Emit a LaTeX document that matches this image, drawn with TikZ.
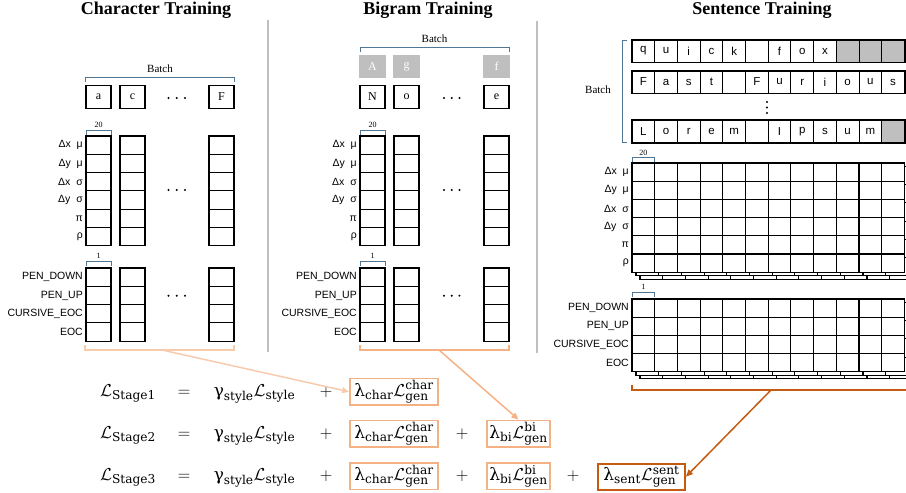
\documentclass[tikz,border=0pt]{standalone}
\usepackage{fontspec}
\usetikzlibrary{arrows.meta}

\newfontfamily\serifface{Liberation Serif}
\newfontfamily\sansface{Liberation Sans}
\newfontfamily\eqface{DejaVu Serif}

\newlength{\du}
\setlength{\du}{1pt}

\newcommand{\eqsub}[1]{\mbox{\eqface\fontsize{12.2}{13}\selectfont #1}}
\newcommand{\eqgrk}[1]{\mbox{\eqface #1}}

\definecolor{batchblue}{RGB}{80,120,150}
\definecolor{padgray}{RGB}{191,191,191}
\definecolor{dividergray}{RGB}{191,191,191}
\definecolor{charsalmon}{RGB}{248,203,173}
\definecolor{bisalmon}{RGB}{244,177,131}
\definecolor{sentorange}{RGB}{197,90,17}

\tikzset{
  titletext/.style={anchor=base, inner sep=0, font=\serifface\bfseries\fontsize{18}{20}\selectfont},
  batchtext/.style={inner sep=0, font=\serifface\fontsize{11}{12}\selectfont},
  sizetext/.style={inner sep=0, font=\serifface\fontsize{8}{9}\selectfont},
  batchbrace/.style={draw=batchblue, line width=0.9},
  letterbox/.style={draw=black, line width=1.2, minimum width=25, minimum height=22.5, inner sep=0, font=\serifface\fontsize{12}{13}\selectfont},
  padletter/.style={letterbox, draw=padgray, fill=padgray, text=white},
  cellbox/.style={draw=black, fill=white, line width=1.1},
  rowlab/.style={anchor=east, inner sep=0, font=\sansface\fontsize{10.5}{12}\selectfont},
  dotmark/.style={circle, fill=black, inner sep=0, minimum size=2.2},
  sentcell/.style={draw=black, line width=1, minimum width=22.7, minimum height=22, inner sep=0, font=\sansface\fontsize{11.5}{12}\selectfont},
  padcell/.style={sentcell, fill=padgray},
  rowframe/.style={draw=black, line width=1.6},
  divider/.style={draw=dividergray, line width=2},
  eqtext/.style={anchor=base, inner sep=0, font=\fontsize{17}{20}\selectfont},
  charloss/.style={eqtext, draw=bisalmon, line width=1.8, inner sep=2, minimum width=88, minimum height=26},
  biloss/.style={charloss, minimum width=63},
  sentloss/.style={charloss, draw=sentorange, minimum width=87},
  chararrow/.style={draw=charsalmon, line width=1.5, -{Triangle[length=7,width=6]}},
  biarrow/.style={draw=bisalmon, line width=1.5, -{Triangle[length=7,width=6]}},
  sentarrow/.style={draw=sentorange, line width=1.5, -{Triangle[length=7,width=6]}},
}

\begin{document}
\begin{tikzpicture}[x=\du, y=\du]
\pgftransformyscale{-1.000000}
\useasboundingbox (0,0) rectangle (906,493);
\clip (0,0) rectangle (906,493);

% dividers
\draw[divider] (268,20) -- (268,352);
\draw[divider] (537,21) -- (537,353);

% Character Training
\node[titletext] (chartitle) at (156,14.5) {Character Training};
\node[batchtext] (charbatch) at (160,68.5) {Batch};
\draw[batchbrace] (85,82) -- (85,77) -- (234,77) -- (234,82);
\foreach \cx/\ch [count=\i] in {86/a,120/c,209/F}
  \node[letterbox] (charin\i) at (\cx+12.5,97) {\ch};
\foreach \dy [count=\j] in {98,190,295.7}
  \foreach \dx [count=\i] in {168.5,176.8,185}
    \node[dotmark] (chardot\j\i) at (\dx,\dy) {};
\node[sizetext] (charsize20) at (98.5,125) {20};
\draw[batchbrace] (86,135) -- (86,130.5) -- (111,130.5) -- (111,135);
\node[sizetext] (charsize1) at (98.5,256) {1};
\draw[batchbrace] (86,266) -- (86,261.5) -- (111,261.5) -- (111,266);
\foreach \cx in {86,120,209}{
  \foreach \r in {0,...,5}
    \draw[cellbox] (\cx,136+\r*18.3) rectangle ++(25,18.3);
  \foreach \r in {0,...,3}
    \draw[cellbox] (\cx,268+\r*18.3) rectangle ++(25,18.3);
}
\foreach \lab [count=\i from 0] in {Δx\ \ μ,Δy\ \ μ,Δx\ \ σ,Δy\ \ σ,π,ρ}
  \node[rowlab] (charmix\i) at (83,145.2+\i*18.3) {\lab};
\foreach \lab [count=\i from 0] in {PEN\_DOWN,PEN\_UP,CURSIVE\_EOC,EOC}
  \node[rowlab] (charpen\i) at (83,277.2+\i*18.3) {\lab};
\draw[draw=charsalmon, line width=1.5] (85,345) -- (85,350) -- (234,350) -- (234,345);
\coordinate (charbot) at (162,350);

% Bigram Training
\node[titletext] (bigtitle) at (428,14.5) {Bigram Training};
\node[batchtext] (bigbatch) at (434.5,39) {Batch};
\draw[batchbrace] (360,52) -- (360,47) -- (509,47) -- (509,52);
\foreach \cx/\ch [count=\i] in {360/A,394/g,484/f}
  \node[padletter] (bigprev\i) at (\cx+12.5,66.5) {\ch};
\foreach \cx/\ch [count=\i] in {360/N,394/o,484/e}
  \node[letterbox] (bigin\i) at (\cx+12.5,97) {\ch};
\foreach \dy [count=\j] in {98,190,295.7}
  \foreach \dx [count=\i] in {444,451.7,459.4}
    \node[dotmark] (bigdot\j\i) at (\dx,\dy) {};
\node[sizetext] (bigsize20) at (372.5,125) {20};
\draw[batchbrace] (360,135) -- (360,130.5) -- (385,130.5) -- (385,135);
\node[sizetext] (bigsize1) at (372.5,256) {1};
\draw[batchbrace] (360,266) -- (360,261.5) -- (385,261.5) -- (385,266);
\foreach \cx in {360,394,484}{
  \foreach \r in {0,...,5}
    \draw[cellbox] (\cx,136+\r*18.3) rectangle ++(25,18.3);
  \foreach \r in {0,...,3}
    \draw[cellbox] (\cx,268+\r*18.3) rectangle ++(25,18.3);
}
\foreach \lab [count=\i from 0] in {Δx\ \ μ,Δy\ \ μ,Δx\ \ σ,Δy\ \ σ,π,ρ}
  \node[rowlab] (bigmix\i) at (357,145.2+\i*18.3) {\lab};
\foreach \lab [count=\i from 0] in {PEN\_DOWN,PEN\_UP,CURSIVE\_EOC,EOC}
  \node[rowlab] (bigpen\i) at (357,277.2+\i*18.3) {\lab};
\draw[draw=bisalmon, line width=1.5] (360,345) -- (360,350) -- (509,350) -- (509,345);
\coordinate (bigbot) at (439,350);

% Sentence Training
\node[titletext] (senttitle) at (762,14.5) {Sentence Training};
\node[batchtext] (sentbatch) at (598,90) {Batch};
\draw[batchbrace] (627,40) -- (622,40) -- (622,142) -- (627,142);
\foreach \ch/\st [count=\i from 0] in {q/sentcell,u/sentcell,i/sentcell,c/sentcell,k/sentcell,{}/sentcell,f/sentcell,o/sentcell,x/sentcell,{}/padcell,{}/padcell,{}/padcell}
  \node[\st] (sentqa\i) at (643.35+\i*22.7,51) {\ch};
\foreach \ch/\st [count=\i from 0] in {F/sentcell,a/sentcell,s/sentcell,t/sentcell,{}/sentcell,F/sentcell,u/sentcell,r/sentcell,i/sentcell,o/sentcell,u/sentcell,s/sentcell}
  \node[\st] (sentqb\i) at (643.35+\i*22.7,82) {\ch};
\foreach \ch/\st [count=\i from 0] in {L/sentcell,o/sentcell,r/sentcell,e/sentcell,m/sentcell,{}/sentcell,I/sentcell,p/sentcell,s/sentcell,u/sentcell,m/sentcell,{}/padcell}
  \node[\st] (sentqc\i) at (643.35+\i*22.7,131.5) {\ch};
\draw[rowframe] (sentqa0.north west) rectangle (sentqa11.south east);
\draw[rowframe] (sentqb0.north west) rectangle (sentqb11.south east);
\draw[rowframe] (sentqc0.north west) rectangle (sentqc11.south east);
\foreach \dy [count=\i] in {102,107.5,113}
  \node[dotmark] (sentvdot\i) at (767,\dy) {};
\node[sizetext] (sentsize20) at (643.35,152.5) {20};
\draw[batchbrace] (632,162) -- (632,157) -- (654.7,157) -- (654.7,162);
\foreach \dx/\dy in {8/7,4/3.5,0/0}
  \foreach \c in {0,...,11}
    \foreach \r in {0,...,5}
      \draw[cellbox] (632+\dx+\c*22.7,163+\dy+\r*18.2) rectangle ++(22.7,18.2);
\foreach \lab [count=\i from 0] in {Δx\ \ μ,Δy\ \ μ,Δx\ \ σ,Δy\ \ σ,π,ρ}
  \node[rowlab] (sentmix\i) at (629,172.1+\i*18.2) {\lab};
\node[sizetext] (sentsize1) at (643.35,287) {1};
\draw[batchbrace] (632,297) -- (632,292) -- (654.7,292) -- (654.7,297);
\foreach \dx/\dy in {8/7,4/3.5,0/0}
  \foreach \c in {0,...,11}
    \foreach \r in {0,...,3}
      \draw[cellbox] (632+\dx+\c*22.7,299+\dy+\r*18.2) rectangle ++(22.7,18.2);
\foreach \lab [count=\i from 0] in {PEN\_DOWN,PEN\_UP,CURSIVE\_EOC,EOC}
  \node[rowlab] (sentpen\i) at (629,308.1+\i*18.2) {\lab};
\draw[draw=sentorange, line width=1.8] (632,385) -- (632,390) -- (910,390);
\coordinate (sentbot) at (771,390);

% losses
\foreach \n/\by in {1/396,2/438,3/480.5}{
  \node[eqtext] (stage\n) at (128,\by) {$\mathcal{L}_{\eqsub{Stage\n}}$};
  \node[eqtext] (equal\n) at (184,\by) {$=$};
  \node[eqtext] (style\n) at (254.5,\by) {$\eqgrk{γ}_{\eqsub{style}}\mathcal{L}_{\eqsub{style}}$};
  \node[eqtext] (plusa\n) at (326,\by) {$+$};
  \node[charloss] (cbox\n) at (394,\by) {$\eqgrk{λ}_{\eqsub{char}}\mathcal{L}^{\eqsub{char}}_{\eqsub{gen}}$};
}
\foreach \n/\by in {2/438,3/480.5}{
  \node[eqtext] (plusb\n) at (462,\by) {$+$};
  \node[biloss] (bbox\n) at (518.5,\by) {$\eqgrk{λ}_{\eqsub{bi}}\mathcal{L}^{\eqsub{bi}}_{\eqsub{gen}}$};
}
\node[eqtext] (plusc3) at (573,480.5) {$+$};
\node[sentloss] (sbox3) at (641.5,480.5) {$\eqgrk{λ}_{\eqsub{sent}}\mathcal{L}^{\eqsub{sent}}_{\eqsub{gen}}$};

% arrows
\draw[chararrow] (charbot) -- (cbox1.west);
\draw[biarrow] (bigbot) -- (bbox2.north);
\draw[sentarrow] (sentbot) -- (sbox3.east);
\end{tikzpicture}
\end{document}
